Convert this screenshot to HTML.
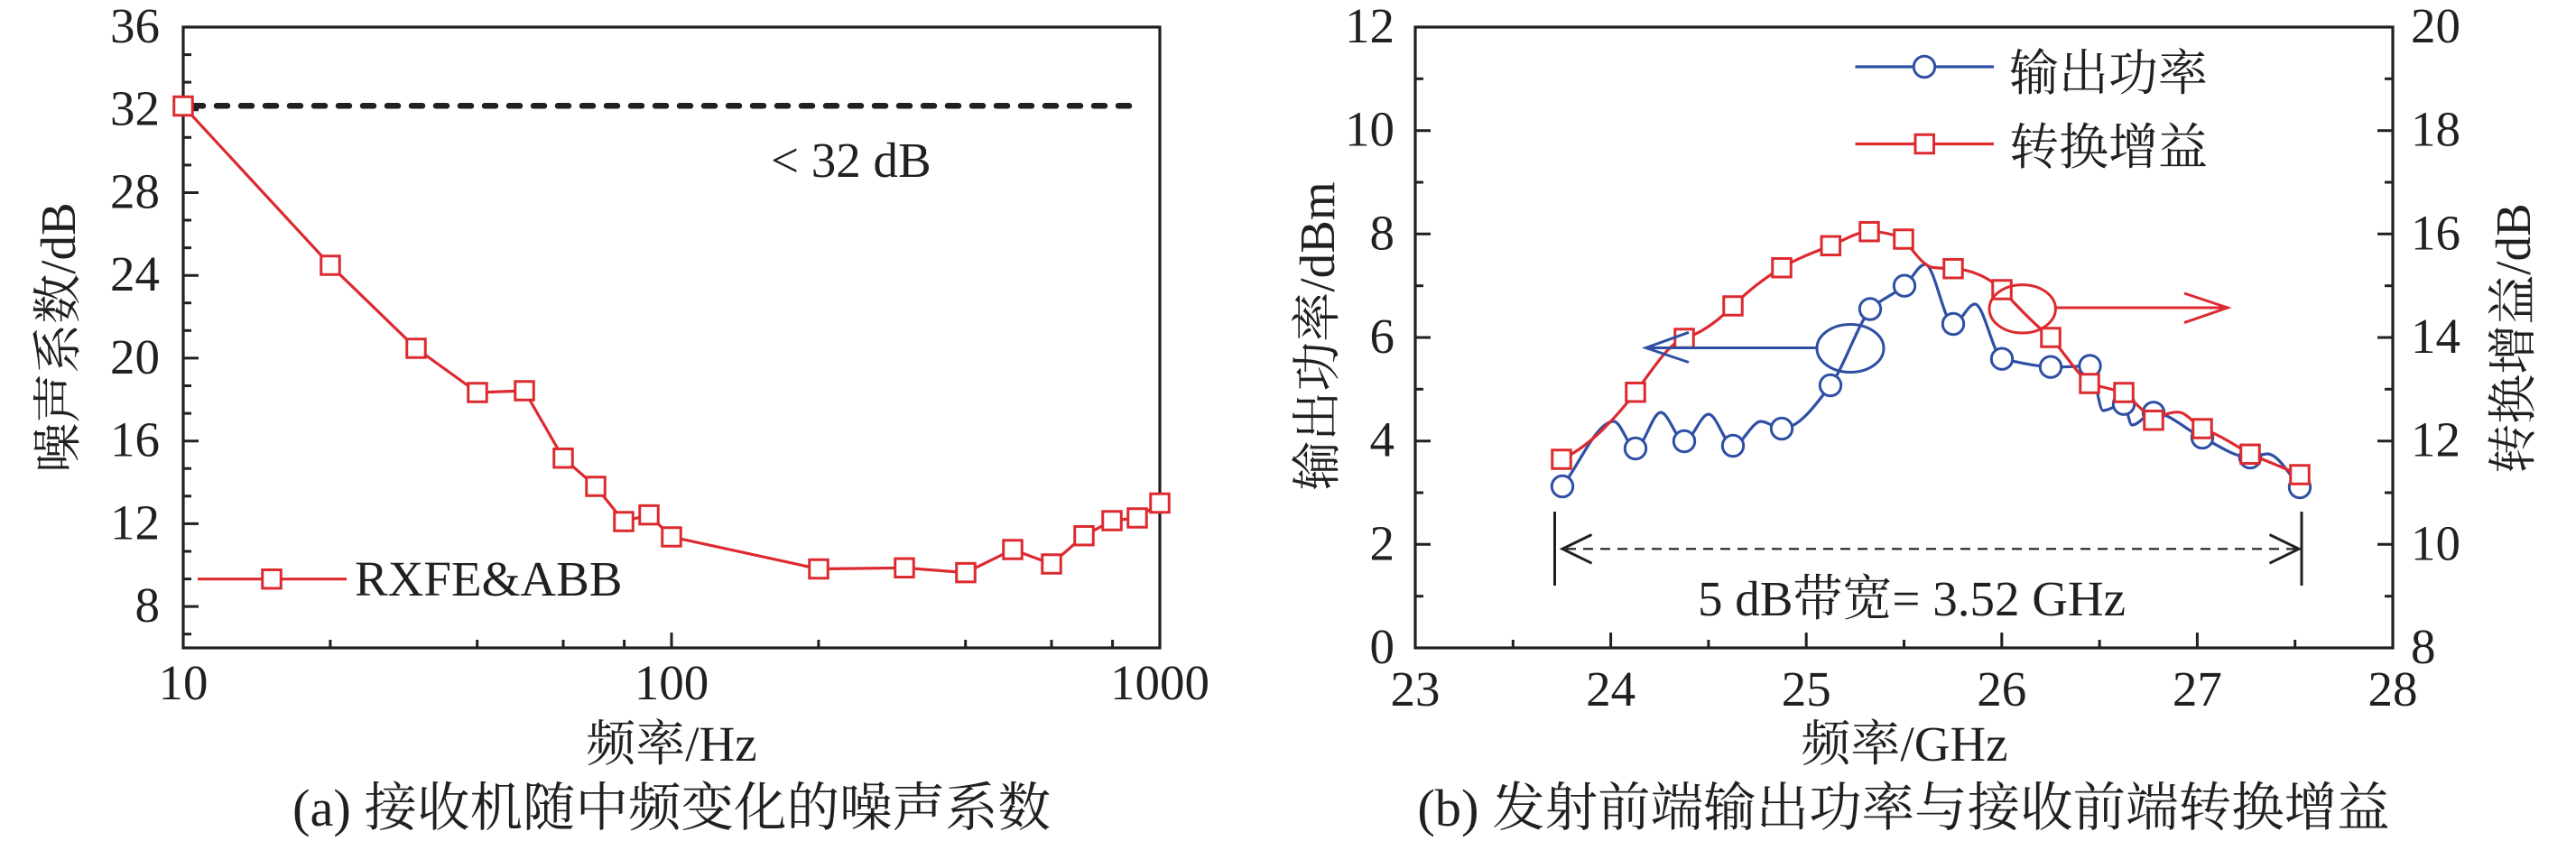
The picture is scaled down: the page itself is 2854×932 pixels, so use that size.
<!DOCTYPE html>
<html>
<head>
<meta charset="utf-8">
<style>
  html, body { margin: 0; padding: 0; background: #ffffff; }
  body { width: 2854px; height: 932px; overflow: hidden; }
  svg { display: block; }
  text { font-family: "Liberation Serif", "Noto Serif CJK SC", serif; fill: #231f20; }
  .tk { font-size: 55px; }
  .ttl { font-size: 55px; }
  .cap { font-size: 58.5px; }
</style>
</head>
<body>
<svg width="2854" height="932" viewBox="0 0 2854 932" xmlns="http://www.w3.org/2000/svg">
  <rect x="0" y="0" width="2854" height="932" fill="#ffffff"/>

  <!-- ================= Chart (a) ================= -->
  <line x1="213" y1="117.3" x2="1253" y2="117.3" stroke="#231f20" stroke-width="6.5" stroke-dasharray="12 15" stroke-linecap="round"/>

  <rect x="203" y="30" width="1082" height="688" fill="none" stroke="#231f20" stroke-width="3.2"/>

  <g stroke="#231f20" stroke-width="3">
    <line x1="203" y1="672.1" x2="220" y2="672.1"/>
    <line x1="203" y1="580.4" x2="220" y2="580.4"/>
    <line x1="203" y1="488.7" x2="220" y2="488.7"/>
    <line x1="203" y1="396.9" x2="220" y2="396.9"/>
    <line x1="203" y1="305.2" x2="220" y2="305.2"/>
    <line x1="203" y1="213.5" x2="220" y2="213.5"/>
    <line x1="203" y1="121.7" x2="220" y2="121.7"/>
    <line x1="203" y1="702.7" x2="212" y2="702.7"/>
    <line x1="203" y1="641.6" x2="212" y2="641.6"/>
    <line x1="203" y1="611" x2="212" y2="611"/>
    <line x1="203" y1="549.8" x2="212" y2="549.8"/>
    <line x1="203" y1="519.2" x2="212" y2="519.2"/>
    <line x1="203" y1="458.1" x2="212" y2="458.1"/>
    <line x1="203" y1="427.5" x2="212" y2="427.5"/>
    <line x1="203" y1="366.3" x2="212" y2="366.3"/>
    <line x1="203" y1="335.7" x2="212" y2="335.7"/>
    <line x1="203" y1="274.6" x2="212" y2="274.6"/>
    <line x1="203" y1="244" x2="212" y2="244"/>
    <line x1="203" y1="182.9" x2="212" y2="182.9"/>
    <line x1="203" y1="152.3" x2="212" y2="152.3"/>
    <line x1="203" y1="91.1" x2="212" y2="91.1"/>
    <line x1="203" y1="60.6" x2="212" y2="60.6"/>
    <line x1="744" y1="718" x2="744" y2="701"/>
    <line x1="365.9" y1="718" x2="365.9" y2="709"/>
    <line x1="528.7" y1="718" x2="528.7" y2="709"/>
    <line x1="624" y1="718" x2="624" y2="709"/>
    <line x1="691.6" y1="718" x2="691.6" y2="709"/>
    <line x1="906.9" y1="718" x2="906.9" y2="709"/>
    <line x1="1069.7" y1="718" x2="1069.7" y2="709"/>
    <line x1="1165" y1="718" x2="1165" y2="709"/>
    <line x1="1232.6" y1="718" x2="1232.6" y2="709"/>
  </g>

  <g class="tk" text-anchor="end">
    <text x="177" y="689">8</text>
    <text x="177" y="597.4">12</text>
    <text x="177" y="505.7">16</text>
    <text x="177" y="414">20</text>
    <text x="177" y="322.2">24</text>
    <text x="177" y="230.5">28</text>
    <text x="177" y="138.7">32</text>
    <text x="177" y="47">36</text>
  </g>
  <g class="tk" text-anchor="middle">
    <text x="203" y="775">10</text>
    <text x="744" y="775">100</text>
    <text x="1285" y="775">1000</text>
  </g>

  <polyline fill="none" stroke="#dc2a2f" stroke-width="3.2" stroke-linejoin="round"
    points="203,117.5 366,294 461,386 529,435 581,433 624,507.7 660,539 691,578 719,570.6 744,595 907,630.5 1002,629.3 1070,634.6 1122,609 1165,625 1201,593.7 1232,577 1260,574 1285,557.5"/>
  <g fill="#ffffff" stroke="#dc2a2f" stroke-width="3">
    <rect x="192.75" y="107.25" width="20.5" height="20.5"/>
    <rect x="355.75" y="283.75" width="20.5" height="20.5"/>
    <rect x="450.75" y="375.75" width="20.5" height="20.5"/>
    <rect x="518.75" y="424.75" width="20.5" height="20.5"/>
    <rect x="570.75" y="422.75" width="20.5" height="20.5"/>
    <rect x="613.75" y="497.45" width="20.5" height="20.5"/>
    <rect x="649.75" y="528.75" width="20.5" height="20.5"/>
    <rect x="680.75" y="567.75" width="20.5" height="20.5"/>
    <rect x="708.75" y="560.35" width="20.5" height="20.5"/>
    <rect x="733.75" y="584.75" width="20.5" height="20.5"/>
    <rect x="896.75" y="620.25" width="20.5" height="20.5"/>
    <rect x="991.75" y="619.05" width="20.5" height="20.5"/>
    <rect x="1059.75" y="624.35" width="20.5" height="20.5"/>
    <rect x="1111.75" y="598.75" width="20.5" height="20.5"/>
    <rect x="1154.75" y="614.75" width="20.5" height="20.5"/>
    <rect x="1190.75" y="583.45" width="20.5" height="20.5"/>
    <rect x="1221.75" y="566.75" width="20.5" height="20.5"/>
    <rect x="1249.75" y="563.75" width="20.5" height="20.5"/>
    <rect x="1274.75" y="547.25" width="20.5" height="20.5"/>
  </g>

  <line x1="219" y1="641.7" x2="384" y2="641.7" stroke="#dc2a2f" stroke-width="3.2"/>
  <rect x="290.75" y="631.45" width="20.5" height="20.5" fill="#ffffff" stroke="#dc2a2f" stroke-width="3"/>
  <text class="ttl" x="393" y="660">RXFE&amp;ABB</text>

  <text class="ttl" x="854" y="196">&lt; 32 dB</text>

  <text class="ttl" text-anchor="middle" transform="translate(83,374) rotate(-90)">噪声系数/dB</text>
  <text class="ttl" text-anchor="middle" x="744" y="843">频率/Hz</text>
  <text class="cap" text-anchor="middle" x="744" y="915">(a) 接收机随中频变化的噪声系数</text>

  <!-- ================= Chart (b) ================= -->
  <rect x="1568" y="30" width="1083" height="688" fill="none" stroke="#231f20" stroke-width="3.2"/>
  <g stroke="#231f20" stroke-width="3">
    <line x1="1568" y1="603.3" x2="1585" y2="603.3"/>
    <line x1="1568" y1="488.7" x2="1585" y2="488.7"/>
    <line x1="1568" y1="374" x2="1585" y2="374"/>
    <line x1="1568" y1="259.3" x2="1585" y2="259.3"/>
    <line x1="1568" y1="144.7" x2="1585" y2="144.7"/>
    <line x1="1568" y1="660.7" x2="1577" y2="660.7"/>
    <line x1="1568" y1="546" x2="1577" y2="546"/>
    <line x1="1568" y1="431.3" x2="1577" y2="431.3"/>
    <line x1="1568" y1="316.7" x2="1577" y2="316.7"/>
    <line x1="1568" y1="202" x2="1577" y2="202"/>
    <line x1="1568" y1="87.3" x2="1577" y2="87.3"/>
    <line x1="2651" y1="603.3" x2="2634" y2="603.3"/>
    <line x1="2651" y1="488.7" x2="2634" y2="488.7"/>
    <line x1="2651" y1="374" x2="2634" y2="374"/>
    <line x1="2651" y1="259.3" x2="2634" y2="259.3"/>
    <line x1="2651" y1="144.7" x2="2634" y2="144.7"/>
    <line x1="2651" y1="660.7" x2="2642" y2="660.7"/>
    <line x1="2651" y1="546" x2="2642" y2="546"/>
    <line x1="2651" y1="431.3" x2="2642" y2="431.3"/>
    <line x1="2651" y1="316.7" x2="2642" y2="316.7"/>
    <line x1="2651" y1="202" x2="2642" y2="202"/>
    <line x1="2651" y1="87.3" x2="2642" y2="87.3"/>
    <line x1="1784.6" y1="718" x2="1784.6" y2="701"/>
    <line x1="2001.2" y1="718" x2="2001.2" y2="701"/>
    <line x1="2217.8" y1="718" x2="2217.8" y2="701"/>
    <line x1="2434.4" y1="718" x2="2434.4" y2="701"/>
    <line x1="1676.3" y1="718" x2="1676.3" y2="709"/>
    <line x1="1892.9" y1="718" x2="1892.9" y2="709"/>
    <line x1="2109.5" y1="718" x2="2109.5" y2="709"/>
    <line x1="2326.1" y1="718" x2="2326.1" y2="709"/>
    <line x1="2542.7" y1="718" x2="2542.7" y2="709"/>
  </g>

  <g class="tk" text-anchor="end">
    <text x="1545" y="735">0</text>
    <text x="1545" y="620.3">2</text>
    <text x="1545" y="505.7">4</text>
    <text x="1545" y="391">6</text>
    <text x="1545" y="276.3">8</text>
    <text x="1545" y="161.7">10</text>
    <text x="1545" y="47">12</text>
  </g>
  <g class="tk" text-anchor="start">
    <text x="2671" y="735">8</text>
    <text x="2671" y="620.3">10</text>
    <text x="2671" y="505.7">12</text>
    <text x="2671" y="391">14</text>
    <text x="2671" y="276.3">16</text>
    <text x="2671" y="161.7">18</text>
    <text x="2671" y="47">20</text>
  </g>
  <g class="tk" text-anchor="middle">
    <text x="1568" y="782">23</text>
    <text x="1784.6" y="782">24</text>
    <text x="2001.2" y="782">25</text>
    <text x="2217.8" y="782">26</text>
    <text x="2434.4" y="782">27</text>
    <text x="2651" y="782">28</text>
  </g>

  <g stroke="#231f20" fill="none">
    <line x1="1735" y1="608.3" x2="2543" y2="608.3" stroke-width="2.2" stroke-dasharray="11 8"/>
    <line x1="1722.5" y1="567" x2="1722.5" y2="649" stroke-width="3"/>
    <line x1="2550" y1="567" x2="2550" y2="649" stroke-width="3"/>
    <polyline points="1763.5,592.5 1731,608.3 1763.5,624.2" stroke-width="3"/>
    <polyline points="2514.5,592.5 2547,608.3 2514.5,624.2" stroke-width="3"/>
  </g>
  <text class="ttl" x="1881" y="682">5 dB带宽= 3.52 GHz</text>

  <path fill="none" stroke="#2e4fa3" stroke-width="3.2" stroke-linejoin="round"
    d="M1731,539 C1750,514.3 1769,467 1788,467
       C1796,467 1804,497 1812,497
       C1821.3,497 1830.7,457 1840,457
       C1848.7,457 1857.3,489 1866,489
       C1875,489 1884,459 1893,459
       C1902,459 1911,494 1920,494
       C1930.3,494 1940.7,467 1951,467
       C1958.7,467 1966.3,475 1974,475
       C1992,475 2010,451.3 2028,427
       C2042.7,407.2 2057.3,362.2 2072,342.5
       C2084.7,331.1 2097.3,327 2110,316.7
       C2117.7,310.5 2125.3,293 2133,293
       C2143.3,293 2153.7,359 2164,359
       C2172,359 2180,337 2188,337
       C2198,337 2208,392.7 2218,397.7
       C2236,401.3 2254,405.8 2272,406.7
       C2286.5,407.4 2301,405.5 2315.5,405.5
       C2320.3,405.5 2325.2,455 2330,455
       C2337.7,455 2345.3,447.7 2353,447.7
       C2356,447.7 2359,471 2362,471
       C2370,471 2378,457.3 2386,457.3
       C2404,457.3 2422,476.7 2440,485
       C2457.7,493.1 2475.3,507 2493,507
       C2499.3,507 2505.7,503 2512,503
       C2524,503 2536,525.6 2548,540"/>
  <g fill="#ffffff" stroke="#2e4fa3" stroke-width="3">
    <circle cx="1731" cy="539" r="11.7"/>
    <circle cx="1812" cy="497" r="11.7"/>
    <circle cx="1866" cy="489" r="11.7"/>
    <circle cx="1920" cy="494" r="11.7"/>
    <circle cx="1974" cy="475" r="11.7"/>
    <circle cx="2028" cy="427" r="11.7"/>
    <circle cx="2072" cy="342.5" r="11.7"/>
    <circle cx="2110" cy="316.7" r="11.7"/>
    <circle cx="2164" cy="359" r="11.7"/>
    <circle cx="2218" cy="397.7" r="11.7"/>
    <circle cx="2272" cy="406.7" r="11.7"/>
    <circle cx="2315.5" cy="405.5" r="11.7"/>
    <circle cx="2353" cy="447.7" r="11.7"/>
    <circle cx="2386" cy="457.3" r="11.7"/>
    <circle cx="2440" cy="485" r="11.7"/>
    <circle cx="2493" cy="507" r="11.7"/>
    <circle cx="2548" cy="540" r="11.7"/>
  </g>

  <path fill="none" stroke="#dc2a2f" stroke-width="3.2" stroke-linejoin="round"
    d="M1730,509 C1757.3,496.7 1784.7,470.2 1812,434.7
       C1830,411.3 1848,380.4 1866,375
       C1884,369.6 1902,357 1920,339
       C1938,321 1956,307.5 1974,296.7
       C1992.1,285.8 2010.2,279.5 2028.3,272.3
       C2042.5,266.6 2056.8,256.7 2071,256.7
       C2083.7,256.7 2096.3,258.7 2109,265
       C2120,278.2 2131,295.4 2142,296.5
       C2149.3,297.2 2156.7,297.7 2164,297.7
       C2182,298.6 2200,304.8 2218,321
       C2236,340.8 2254,359.6 2272,374
       C2286.3,389.8 2300.7,413.5 2315,425
       C2327.7,428.8 2340.3,431.2 2353,435
       C2364,444.9 2375,455.8 2386,465.7
       C2395,460.3 2404,456.7 2413,456.7
       C2422,456.7 2431,469.6 2440,475
       C2457.7,481.2 2475.3,492.7 2493,503.3
       L2548,526"/>
  <g fill="#ffffff" stroke="#dc2a2f" stroke-width="3">
    <rect x="1719.75" y="498.75" width="20.5" height="20.5"/>
    <rect x="1801.75" y="424.45" width="20.5" height="20.5"/>
    <rect x="1855.75" y="364.75" width="20.5" height="20.5"/>
    <rect x="1909.75" y="328.75" width="20.5" height="20.5"/>
    <rect x="1963.75" y="286.45" width="20.5" height="20.5"/>
    <rect x="2018.05" y="262.05" width="20.5" height="20.5"/>
    <rect x="2060.75" y="246.45" width="20.5" height="20.5"/>
    <rect x="2098.75" y="254.75" width="20.5" height="20.5"/>
    <rect x="2153.75" y="287.45" width="20.5" height="20.5"/>
    <rect x="2207.75" y="310.75" width="20.5" height="20.5"/>
    <rect x="2261.75" y="363.75" width="20.5" height="20.5"/>
    <rect x="2304.75" y="414.75" width="20.5" height="20.5"/>
    <rect x="2342.75" y="424.75" width="20.5" height="20.5"/>
    <rect x="2375.75" y="455.45" width="20.5" height="20.5"/>
    <rect x="2429.75" y="464.75" width="20.5" height="20.5"/>
    <rect x="2482.75" y="493.05" width="20.5" height="20.5"/>
    <rect x="2537.75" y="515.75" width="20.5" height="20.5"/>
  </g>

  <g fill="none" stroke="#2e4fa3" stroke-width="3">
    <ellipse cx="2050" cy="386" rx="37" ry="26.5"/>
    <line x1="2013" y1="385.5" x2="1825" y2="385.5"/>
    <polyline points="1871,368.3 1823.5,385.5 1871,401.5"/>
  </g>
  <g fill="none" stroke="#dc2a2f" stroke-width="3">
    <ellipse cx="2240.7" cy="342.3" rx="36.7" ry="26.7"/>
    <line x1="2277.4" y1="341" x2="2466" y2="341"/>
    <polyline points="2420,325 2468,341 2420,357.6"/>
  </g>

  <line x1="2055.5" y1="74" x2="2209" y2="74" stroke="#2e4fa3" stroke-width="3.2"/>
  <circle cx="2132" cy="74" r="11.7" fill="#ffffff" stroke="#2e4fa3" stroke-width="3"/>
  <line x1="2055.5" y1="159.5" x2="2209" y2="159.5" stroke="#dc2a2f" stroke-width="3.2"/>
  <rect x="2122" y="149.25" width="20.5" height="20.5" fill="#ffffff" stroke="#dc2a2f" stroke-width="3"/>
  <text class="ttl" x="2226" y="100">输出功率</text>
  <text class="ttl" x="2226" y="182">转换增益</text>

  <text class="ttl" text-anchor="middle" transform="translate(1478,372.5) rotate(-90)">输出功率/dBm</text>
  <text class="ttl" text-anchor="middle" transform="translate(2803,375) rotate(-90)">转换增益/dB</text>
  <text class="ttl" text-anchor="middle" x="2110" y="843">频率/GHz</text>
  <text class="cap" text-anchor="middle" x="2109" y="915">(b) 发射前端输出功率与接收前端转换增益</text>
</svg>
</body>
</html>
